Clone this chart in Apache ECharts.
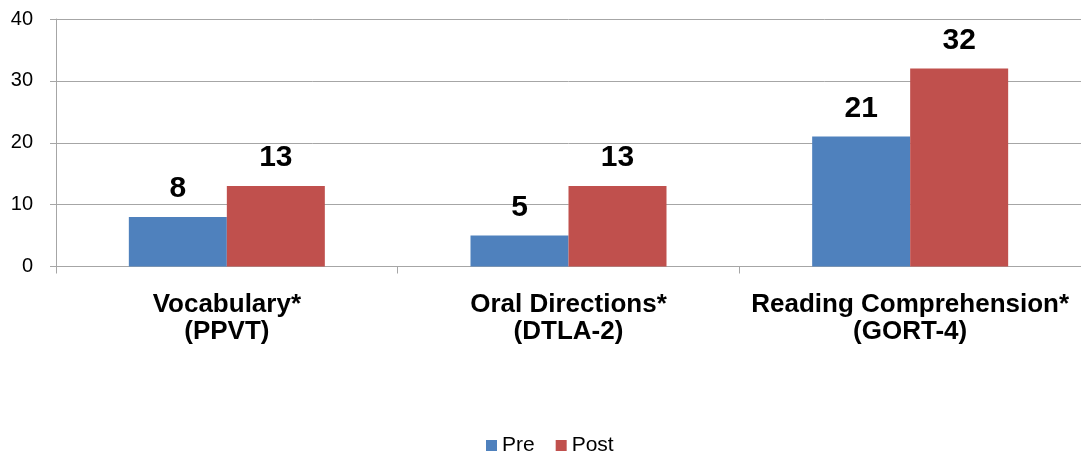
<!DOCTYPE html>
<html>
<head>
<meta charset="utf-8">
<script src="https://cdn.jsdelivr.net/npm/echarts@6/dist/echarts.min.js"></script>
<style>
  html, body { margin: 0; padding: 0; background: #fff; }
  #chart { width: 1081px; height: 457px; }
</style>
</head>
<body>
<div id="chart"></div>
<script>
// Test categories, pre/post scores and y-axis ticks
const categories = ['Vocabulary*\n(PPVT)', 'Oral Directions*\n(DTLA-2)', 'Reading Comprehension*\n(GORT-4)'];
const preScores = [8, 5, 21];
const postScores = [13, 13, 32];
const seriesNames = ['Pre', 'Post'];
const yTicks = [0, 10, 20, 30, 40];

const chart = echarts.init(document.getElementById('chart'));
const font = 'Arial, "Liberation Sans", sans-serif';

const valueLabel = {
  show: true,
  position: 'top',
  distance: 13,
  fontFamily: font,
  fontSize: 30,
  fontWeight: 'bold',
  color: '#000'
};

chart.setOption({
  animation: false,
  textStyle: { fontFamily: font },
  grid: { left: 56, right: -2, top: 19, bottom: 190.5, containLabel: false },
  legend: {
    top: 433,
    left: 484,
    padding: [2, 2, 2, 2],
    itemWidth: 11,
    itemHeight: 11,
    itemGap: 21,
    icon: 'rect',
    textStyle: { fontFamily: font, fontSize: 21, color: '#000' },
    data: seriesNames
  },
  xAxis: {
    type: 'category',
    data: categories,
    axisLine: { lineStyle: { color: '#a6a6a6', width: 1 } },
    axisTick: { show: true, length: 7, lineStyle: { color: '#a6a6a6' } },
    axisLabel: {
      interval: 0,
      margin: 25,
      fontFamily: font,
      fontSize: 26,
      fontWeight: 'bold',
      lineHeight: 27,
      color: '#000'
    }
  },
  yAxis: {
    type: 'value',
    min: yTicks[0],
    max: yTicks[yTicks.length - 1],
    interval: 10,
    axisLine: { show: true, lineStyle: { color: '#a6a6a6' } },
    axisTick: { show: true, length: 6, lineStyle: { color: '#a6a6a6' } },
    splitLine: { lineStyle: { color: '#a6a6a6', width: 1 } },
    axisLabel: { margin: 23, fontFamily: font, fontSize: 20, color: '#000' }
  },
  series: [
    {
      name: seriesNames[0],
      type: 'bar',
      data: preScores,
      barWidth: 98,
      barGap: '0%',
      itemStyle: { color: '#4F81BD' },
      label: valueLabel
    },
    {
      name: seriesNames[1],
      type: 'bar',
      data: postScores,
      barWidth: 98,
      barGap: '0%',
      itemStyle: { color: '#C0504D' },
      label: valueLabel
    }
  ]
});
</script>
</body>
</html>
